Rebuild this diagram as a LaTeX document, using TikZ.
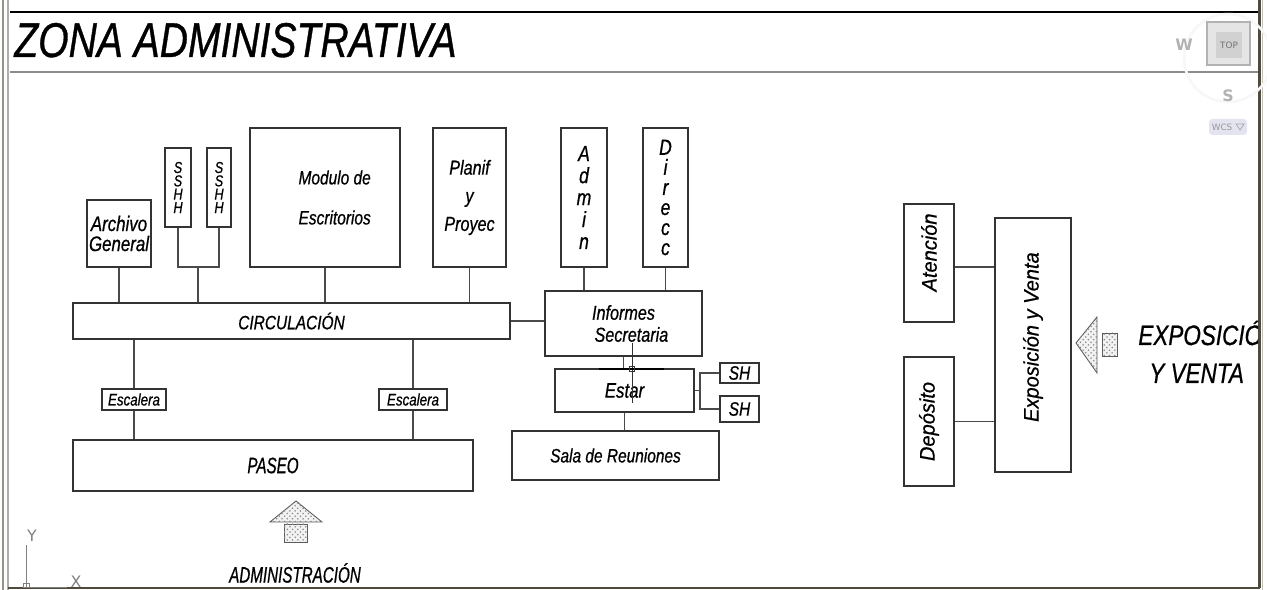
\documentclass[tikz,border=0pt]{standalone}
\usepackage{fontspec}
\usepackage{graphicx}
\usetikzlibrary{patterns}
\newfontfamily\cadfont[FakeStretch=0.8,FakeBold=0.7]{Liberation Sans}
\newfontfamily\cadnarrow[FakeStretch=0.68,FakeBold=0.7]{Liberation Sans}
\newfontfamily\cadwide[FakeStretch=0.95,FakeBold=0.7]{Liberation Sans}
\newfontfamily\uifont{DejaVu Sans}
\definecolor{zaLine}{HTML}{333333}
\definecolor{zaLink}{HTML}{4A4A4A}
\definecolor{zaFrame}{HTML}{4E4A3C}
\definecolor{zaRule}{HTML}{8C8C8C}
\definecolor{zaUcs}{HTML}{808080}
\definecolor{zaWcs}{HTML}{E4E4F0}
\tikzset{
  room/.style={
    draw=zaLine, line width=0.6pt, inner sep=0pt, align=center,
    font=\cadfont\itshape\fontsize{11}{13}\selectfont,
  },
  link/.style={
    draw=zaLink, line width=0.6pt,
  },
  entry arrow/.style={
    draw=zaLine!80, line width=0.5pt, fill=black!5,
    postaction={pattern=crosshatch dots, pattern color=black!45},
  },
  plain text/.style={
    inner sep=0pt, font=\cadfont\itshape\fontsize{16}{19}\selectfont,
  },
  ui text/.style={
    inner sep=0pt, font=\uifont\fontsize{9}{9}\selectfont, text=black!40,
  },
}
% room box from its two corners, given in pixels: [opts]{name}{x1}{y1}{x2}{y2}{text}
\newcommand\room[7][]{%
  \pgfmathsetmacro\rmx{(#3+#5)/2}%
  \pgfmathsetmacro\rmy{(#4+#6)/2}%
  \pgfmathsetmacro\rmw{(#5-#3)*0.02}%
  \pgfmathsetmacro\rmh{(#6-#4)*0.02}%
  \node[room, minimum width=\rmw cm, minimum height=\rmh cm, #1] (#2) at (\rmx,\rmy) {#7};%
}

\begin{document}
\begin{tikzpicture}[x=0.02cm, y=-0.02cm]
\useasboundingbox (0,0) rectangle (1267,590);

% sheet frame
\draw[zaFrame!60, line width=1.4pt] (3,0) -- (3,590);
\draw[zaFrame!45, line width=1pt] (8,0) -- (8,590);
\draw[black, line width=0.6pt] (10,12) -- (1259,12);
\draw[zaRule, line width=1.2pt] (10,72) -- (1259,72);
\draw[zaFrame, line width=1.2pt] (8,588) -- (1260,588);
\draw[zaFrame, line width=1.2pt] (1259.5,0) -- (1259.5,588);
\draw[zaFrame!35, line width=0.8pt] (1262.5,0) -- (1262.5,590);

% view cube (top right)
\draw[black!3, line width=1.5pt] (1228,58) circle (25pt);
\node[ui text, font=\uifont\bfseries\fontsize{9}{9}\selectfont, text=black!30] (cubeW) at (1184,45) {W};
\node[draw=black!30, fill=black!10, line width=0.6pt, inner sep=0pt, minimum size=0.86cm] (cube) at (1228.5,43.5) {};
\node[fill=black!18, inner sep=0pt, minimum size=0.52cm,
      font=\uifont\fontsize{5}{5}\selectfont, text=black!55] (cubeTop) at (1229,45) {TOP};
\node[ui text, font=\uifont\bfseries\fontsize{9}{9}\selectfont, text=black!30] (cubeS) at (1228,96) {S};
\node[fill=zaWcs, rounded corners=2pt, inner sep=0pt, minimum width=0.76cm, minimum height=0.32cm] (wcs) at (1228,127) {};
\node[ui text, font=\uifont\fontsize{5}{5}\selectfont] (wcsText) at (1222,127) {WCS};
\draw[black!35, line width=0.4pt] (1236,124) -- (1244,124) -- (1240,130) -- cycle;

% title
\node[plain text, font=\cadfont\itshape\fontsize{27.8}{30}\selectfont, anchor=base west]
  (title) at (14,57) {ZONA ADMINISTRATIVA};

% circulation spine and paseo
\room{circ}{73}{303}{510}{339}{CIRCULACIÓN}
\room[font=\cadnarrow\itshape\fontsize{12.7}{14}\selectfont]{paseo}{73}{440}{473}{491}{PASEO}

% rooms above the circulation
\room[font=\cadfont\itshape\fontsize{12}{11.4}\selectfont]{arch}{87}{200}{151}{267}{Archivo\\General}
\room[font=\cadfont\itshape\fontsize{11}{22.8}\selectfont]{mod}{250}{128}{400}{267}
  {\hspace*{11pt}Modulo de\\\hspace*{11pt}Escritorios}
\room[font=\cadfont\itshape\fontsize{11.5}{16}\selectfont]{plan}{433}{128}{506}{267}{Planif\\y\\Proyec}
\foreach \n/\xa/\xb in {1/165/191, 2/207/231} {
  \room[font=\cadfont\itshape\fontsize{9}{7.6}\selectfont]{sshh\n}{\xa}{148}{\xb}{227}{S\\S\\H\\H}
}

\draw[link] (arch.south) -- (arch.south |- circ.north);
\coordinate (sshhJoin) at (198,267);
\draw[link] (sshh1.south) |- (sshhJoin);
\draw[link] (sshh2.south) |- (sshhJoin);
\draw[link] (sshhJoin) -- (sshhJoin |- circ.north);
\draw[link] (mod.south) -- (mod.south |- circ.north);
\draw[link] (plan.south) -- (plan.south |- circ.north);

% stairs down to the paseo
\foreach \n/\xa/\xb in {1/102/166, 2/379/447} {
  \room[font=\cadfont\itshape\fontsize{9.5}{11}\selectfont]{esc\n}{\xa}{389}{\xb}{410}{Escalera}
  \draw[link] (esc\n.north) -- (esc\n.north |- circ.south);
  \draw[link] (esc\n.south) -- (esc\n.south |- paseo.north);
}

% direction block
\room[font=\cadfont\itshape\fontsize{12.5}{12.5}\selectfont]{adm}{561}{128}{607}{267}{A\\d\\m\\i\\n}
\room[font=\cadfont\itshape\fontsize{12.5}{11.4}\selectfont]{dir}{643}{128}{688}{267}{D\\i\\r\\e\\c\\c}
\room[font=\cadfont\itshape\fontsize{11.5}{12.5}\selectfont]{inf}{545}{291}{702}{356}
  {Informes\\\hspace*{9pt}Secretaria}
\room[font=\cadfont\itshape\fontsize{12}{14}\selectfont]{estar}{555}{369}{694}{412}{Estar}
\room{sala}{512}{431}{719}{480}{Sala de Reuniones}

\draw[link] (adm.south) -- (adm.south |- inf.north);
\draw[link] (dir.south) -- (dir.south |- inf.north);
\draw[link] (circ.east) -- (circ.east -| inf.west);
\draw[link] (inf.south) -- (inf.south |- estar.north);
\draw[link] (estar.south) -- (estar.south |- sala.north);

\coordinate (shJoin) at (700,390.5);
\draw[link] (estar.east) -- (shJoin);
\foreach \n/\ya/\yb in {1/363/383, 2/396/422} {
  \room{sh\n}{720}{\ya}{759}{\yb}{SH}
  \draw[link] (sh\n.west) -| (shJoin);
}

% cursor cross left on the drawing
\draw[black!80, line width=0.5pt] (632,343) -- (632,403);
\draw[black, line width=1pt] (599,369) -- (664,369);
\draw[black!80, line width=0.5pt] (629.5,366.5) rectangle (634.5,371.5);

% exposition and sales
\room[font=\cadwide\itshape\fontsize{12}{14}\selectfont]{aten}{904}{204}{954}{322}
  {\rotatebox{90}{\hspace*{12pt}Atención}}
\room[font=\cadwide\itshape\fontsize{12}{14}\selectfont]{dep}{904}{357}{954}{486}
  {\rotatebox{90}{Depósito}}
\room[font=\cadwide\itshape\fontsize{12}{14}\selectfont]{expo}{995}{218}{1071}{472}
  {\rotatebox{90}{\hspace*{9pt}Exposición y Venta}}
\draw[link] (aten.east) ++(0,4) coordinate (atenOut) -- (atenOut -| expo.west);
\draw[link] (dep.east) -- (dep.east -| expo.west);

% entrance arrows
\filldraw[entry arrow] (270,522) -- (296,501) -- (322,522) -- cycle;
\filldraw[entry arrow] (284,524) rectangle (307,542);
\node[plain text, font=\cadnarrow\itshape\fontsize{12.7}{14}\selectfont] (admLabel) at (295,573) {ADMINISTRACIÓN};

\filldraw[entry arrow] (1076,343) -- (1097,317) -- (1097,373) -- cycle;
\filldraw[entry arrow] (1102,333) rectangle (1117,356);
\begin{scope}
  \clip (0,0) rectangle (1258,590);
  \node[plain text, anchor=base west] (expoLabel) at (1138,345) {EXPOSICIÓN};
\end{scope}
\node[plain text, anchor=base west] (ventaLabel) at (1149,383) {Y VENTA};

% UCS icon
\draw[zaUcs, line width=0.5pt] (26,545) -- (26,587) -- (67,587);
\draw[zaUcs, line width=0.5pt] (23,583) rectangle (29,587);
\node[ui text, font=\uifont\fontsize{9}{9}\selectfont, text=zaUcs] (ucsY) at (32,536) {Y};
\node[ui text, font=\uifont\fontsize{9}{9}\selectfont, text=zaUcs] (ucsX) at (76,582) {X};

\end{tikzpicture}
\end{document}
